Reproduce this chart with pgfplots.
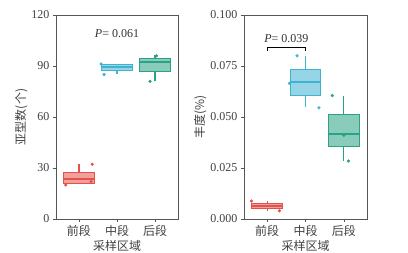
\documentclass[border=0pt]{standalone}
\usepackage{pgfplots}
\pgfplotsset{compat=1.18}
\usepackage{fontspec}
\setmainfont{Liberation Serif}
\newfontfamily\cjk{Noto Sans CJK SC}
\definecolor{cr}{HTML}{E4514B}
\definecolor{cc}{HTML}{3FB3CF}
\definecolor{ct}{HTML}{2AA283}
\definecolor{axg}{HTML}{555555}
% box: colour, left, centre, right, lower whisker, q1, median, q3, upper whisker
\newcommand{\bxp}[9]{%
\addplot[color=#1, solid, line width=1.1pt, mark=none] coordinates {(#3,#5) (#3,#6)};
\addplot[color=#1, solid, line width=1.1pt, mark=none] coordinates {(#3,#8) (#3,#9)};
\addplot[draw=#1, fill=#1!55, line width=1pt] coordinates {(#2,#6) (#4,#6) (#4,#8) (#2,#8)} -- cycle;
\addplot[draw=#1, line width=2pt] coordinates {(#2,#7) (#4,#7)};
}
\begin{document}
\begin{tikzpicture}
\path[use as bounding box] (0pt,0pt) rectangle (408pt,253pt);
\pgfplotsset{
  myax/.style={
    scale only axis, anchor=south west,
    height=204pt,
    xmin=0.395, xmax=3.605,
    xtick={1,2,3}, xticklabels={{\cjk 前段},{\cjk 中段},{\cjk 后段}},
    tick align=outside, tick pos=left, major tick length=3pt,
    axis line style={axg, line width=0.8pt},
    every tick/.style={axg, line width=0.6pt},
    tick label style={font=\fontsize{12}{14}\selectfont, text=black!75},
    label style={font=\fontsize{12}{14}\selectfont\cjk, text=black!75},
    xlabel={采样区域},
    xlabel style={yshift=3pt},
    /pgf/number format/assume math mode=true,
    clip=false,
  },
  pts/.style={only marks, mark=*, mark size=1.4pt, color=#1},
}
\begin{axis}[myax, at={(56pt,34pt)}, width=122pt,
  ymin=0, ymax=120, ytick={0,30,60,90,120},
  ylabel={亚型数(个)}, ylabel style={yshift=-3pt}]
\bxp{cr}{0.6}{1}{1.4}{20.4}{21}{23.5}{27.5}{32.4}
\bxp{cc}{1.6}{2}{2.4}{85.3}{87.2}{89.4}{91}{91}
\bxp{ct}{2.6}{3}{3.4}{81.4}{86.6}{92.4}{94.3}{96.3}
\addplot[pts=cr] coordinates {(0.65,20) (1.35,32.2) (1.32,22)};
\addplot[pts=cc] coordinates {(1.58,91.2) (1.66,85)};
\addplot[pts=ct] coordinates {(3.04,96) (2.87,81)};
\node[font=\fontsize{12}{14}\selectfont, text=black!80] at (axis cs:2,109) {\textit{P}= 0.061};
\end{axis}
\begin{axis}[myax, at={(244pt,34pt)}, width=123pt,
  ymin=0, ymax=0.1, ytick={0,0.025,0.05,0.075,0.1},
  yticklabel style={/pgf/number format/.cd, fixed, fixed zerofill, precision=3},
  scaled y ticks=false,
  ylabel={丰度(\%)}, ylabel style={yshift=-3pt}]
\bxp{cr}{0.6}{1}{1.4}{0.004}{0.005}{0.0065}{0.0078}{0.0088}
\bxp{cc}{1.6}{2}{2.4}{0.0549}{0.0606}{0.067}{0.0735}{0.080}
\bxp{ct}{2.6}{3}{3.4}{0.0286}{0.0353}{0.0418}{0.0511}{0.0605}
\addplot[pts=cr] coordinates {(0.59,0.0088) (1.32,0.004)};
\addplot[pts=cc] coordinates {(1.78,0.080) (2.35,0.0545) (1.58,0.0665)};
\addplot[pts=ct] coordinates {(2.7,0.0605) (3.12,0.0284) (3.0,0.041)};
\addplot[black, line width=1pt] coordinates {(1,0.0824) (1,0.0843) (2,0.0843) (2,0.0824)};
\node[font=\fontsize{12}{14}\selectfont, text=black!80] at (axis cs:1.5,0.0885) {\textit{P}= 0.039};
\end{axis}
\end{tikzpicture}
\end{document}
